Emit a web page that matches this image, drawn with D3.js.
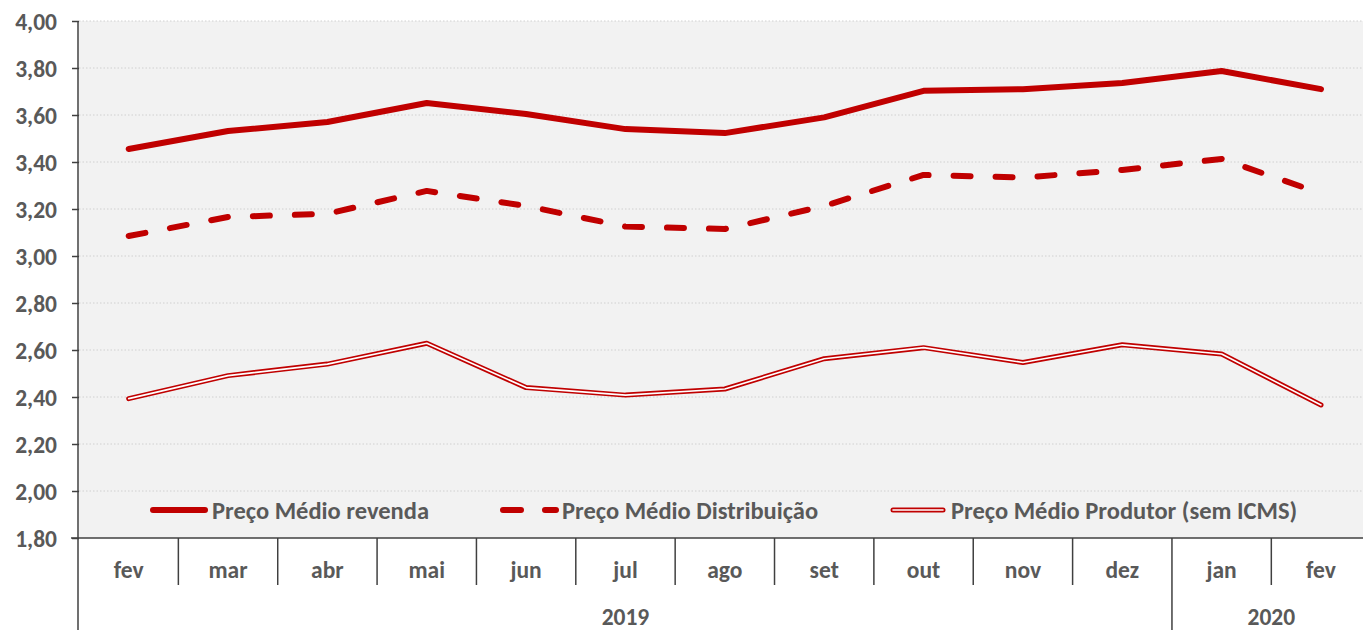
<!DOCTYPE html>
<html><head><meta charset="utf-8">
<script src="https://cdn.jsdelivr.net/npm/d3@7"></script>
<style>
html,body{margin:0;padding:0;background:#fff;}
svg{display:block;}
text{font-family:Carlito, Calibri, Lato, "Open Sans", sans-serif;font-weight:bold;fill:#595959;}
</style></head>
<body>
<svg id="chart" width="1363" height="630"></svg>
<script>
const months = ["fev","mar","abr","mai","jun","jul","ago","set","out","nov","dez","jan","fev"];
const years = [{label:"2019", from:0, to:10},{label:"2020", from:11, to:12}];
const revenda = [3.455,3.532,3.570,3.651,3.604,3.540,3.523,3.590,3.703,3.710,3.736,3.787,3.710];
const distribuicao = [3.085,3.166,3.180,3.277,3.213,3.125,3.115,3.213,3.345,3.334,3.366,3.413,3.266];
const produtor = [2.393,2.491,2.540,2.629,2.440,2.408,2.434,2.563,2.610,2.547,2.622,2.583,2.366];
const yTicks = [1.8,2.0,2.2,2.4,2.6,2.8,3.0,3.2,3.4,3.6,3.8,4.0];
const seriesNames = ["Preço Médio revenda","Preço Médio Distribuição","Preço Médio Produtor (sem ICMS)"];

const svg = d3.select("#chart");
const W = 1363, H = 630;
const mLeft = 79, mTop = 21, mBottom = 538;
const step = 99.36;
const FS = "23.5px";
const LFS = "24.5px";
const x = d3.scaleBand().domain(d3.range(months.length)).range([mLeft, mLeft + step*months.length]).padding(0);
const y = d3.scaleLinear().domain([1.8, 4.0]).range([mBottom, mTop]);
const red = "#c00000";
const fmt = v => d3.format(".2f")(v).replace(".", ",");

// background
svg.append("rect").attr("x", mLeft).attr("y", mTop).attr("width", W-mLeft).attr("height", mBottom-mTop).attr("fill", "#f2f2f2");

// grid
svg.append("g").selectAll("line").data(yTicks.filter(t => t > 1.8)).join("line")
  .attr("x1", mLeft).attr("x2", W).attr("y1", d => y(d)).attr("y2", d => y(d))
  .attr("stroke", "#d0d0d0").attr("stroke-width", 1).attr("stroke-dasharray", "1.5,2");

// y axis
const yAxis = d3.axisLeft(y).tickValues(yTicks).tickFormat(fmt).tickSize(7).tickPadding(15);
const ga = svg.append("g").attr("transform", `translate(${mLeft},0)`).call(yAxis);
ga.select(".domain").remove();
ga.selectAll(".tick line").attr("stroke", "#404040").attr("stroke-width", 1.5);
ga.selectAll(".tick text").style("font-size", FS).attr("fill", "#595959").attr("dy", "0.34em");
svg.append("line").attr("x1", mLeft-1).attr("x2", mLeft-1).attr("y1", mTop).attr("y2", H).attr("stroke", "#404040").attr("stroke-width", 1.5);

// x axis base line
svg.append("line").attr("x1", mLeft-8).attr("x2", W).attr("y1", mBottom).attr("y2", mBottom).attr("stroke", "#404040").attr("stroke-width", 1.5);

// month separators
const seps = d3.range(1, months.length);
svg.append("g").selectAll("line").data(seps).join("line")
  .attr("x1", d => x(d)).attr("x2", d => x(d))
  .attr("y1", mBottom).attr("y2", d => years.some(yr => yr.from === d) ? H : 585)
  .attr("stroke", "#404040").attr("stroke-width", 1.5);

// month labels
svg.append("g").selectAll("text").data(months).join("text")
  .attr("x", (d,i) => x(i) + x.bandwidth()/2).attr("y", 578)
  .attr("text-anchor", "middle").style("font-size", FS).text(d => d);

// year labels
svg.append("g").selectAll("text").data(years).join("text")
  .attr("x", d => (x(d.from) + x(d.to) + x.bandwidth())/2).attr("y", 625)
  .attr("text-anchor", "middle").style("font-size", FS).text(d => d.label);

const line = d3.line().x((d,i) => x(i) + x.bandwidth()/2).y(d => y(d));

// produtor double line
svg.append("path").datum(produtor).attr("d", line).attr("fill", "none").attr("stroke", red).attr("stroke-width", 5).attr("stroke-linejoin", "round").attr("stroke-linecap", "round");
svg.append("path").datum(produtor).attr("d", line).attr("fill", "none").attr("stroke", "#ffffff").attr("stroke-width", 1.6).attr("stroke-linejoin", "round").attr("stroke-linecap", "round");

// distribuicao dashed
svg.append("path").datum(distribuicao).attr("d", line).attr("fill", "none").attr("stroke", red).attr("stroke-width", 6).attr("stroke-dasharray", "17,25").attr("stroke-linecap", "round").attr("stroke-linejoin", "round");

// revenda solid
svg.append("path").datum(revenda).attr("d", line).attr("fill", "none").attr("stroke", red).attr("stroke-width", 6).attr("stroke-linejoin", "round").attr("stroke-linecap", "round");

// legend
const ly = 510;
const leg = [
  {x1:153, x2:205, tx:212, type:"solid"},
  {x1:503, x2:556, tx:562, type:"dash"},
  {x1:893, x2:943, tx:951, type:"double"}
];
leg.forEach((l, i) => {
  if (l.type === "solid") {
    svg.append("line").attr("x1", l.x1).attr("x2", l.x2).attr("y1", ly).attr("y2", ly).attr("stroke", red).attr("stroke-width", 6).attr("stroke-linecap", "round");
  } else if (l.type === "dash") {
    svg.append("line").attr("x1", l.x1).attr("x2", l.x2).attr("y1", ly).attr("y2", ly).attr("stroke", red).attr("stroke-width", 6).attr("stroke-linecap", "round").attr("stroke-dasharray", "18,24");
  } else {
    svg.append("line").attr("x1", l.x1).attr("x2", l.x2).attr("y1", ly).attr("y2", ly).attr("stroke", red).attr("stroke-width", 5).attr("stroke-linecap", "round");
    svg.append("line").attr("x1", l.x1).attr("x2", l.x2).attr("y1", ly).attr("y2", ly).attr("stroke", "#fff").attr("stroke-width", 1.6).attr("stroke-linecap", "round");
  }
  svg.append("text").attr("x", l.tx).attr("y", ly).attr("dy", "0.35em").style("font-size", LFS).text(seriesNames[i]);
});
</script>
</body></html>
